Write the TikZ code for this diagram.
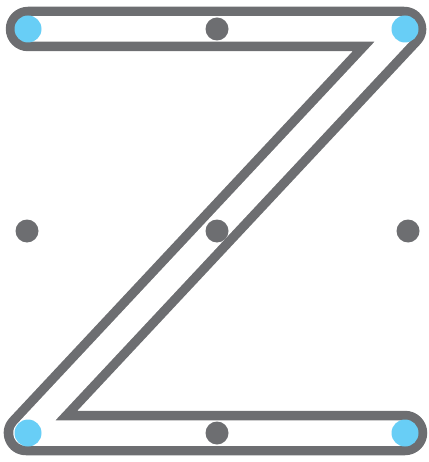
\documentclass[tikz,border=0pt]{standalone}
\usepackage{tikz}

\definecolor{zgray}{RGB}{109,110,113}
\definecolor{zblue}{RGB}{104,206,246}

\begin{document}
\begin{tikzpicture}[
    x=1pt, y=-1pt,
    zouter/.style={draw=zgray, line width=44.5pt, line cap=round, line join=round},
    zinner/.style={draw=white, line width=25.5pt, line cap=round, line join=round},
    enddot/.style={circle, fill=zblue, inner sep=0pt, minimum size=27pt},
    middot/.style={circle, fill=zgray, inner sep=0pt, minimum size=23pt}
]
    \useasboundingbox (0,0) rectangle (428,462);

    \coordinate (ztl) at (28,29);
    \coordinate (ztr) at (404,29);
    \coordinate (zbl) at (26,433);
    \coordinate (zbr) at (405,433);

    \draw[zouter] (ztl) -- (ztr) -- (zbl) -- (zbr);
    \draw[zinner] (ztl) -- (ztr) -- (zbl) -- (zbr);

    \node[enddot] (topleft) at (28,29) {};
    \node[enddot] (topright) at (405,29) {};
    \node[enddot] (botleft) at (28,433) {};
    \node[enddot] (botright) at (405,433) {};

    \node[middot] (topmid) at (217,29) {};
    \node[middot] (midleft) at (27,231) {};
    \node[middot] (center) at (217,231) {};
    \node[middot] (midright) at (408,231) {};
    \node[middot] (botmid) at (217,433) {};
\end{tikzpicture}
\end{document}
